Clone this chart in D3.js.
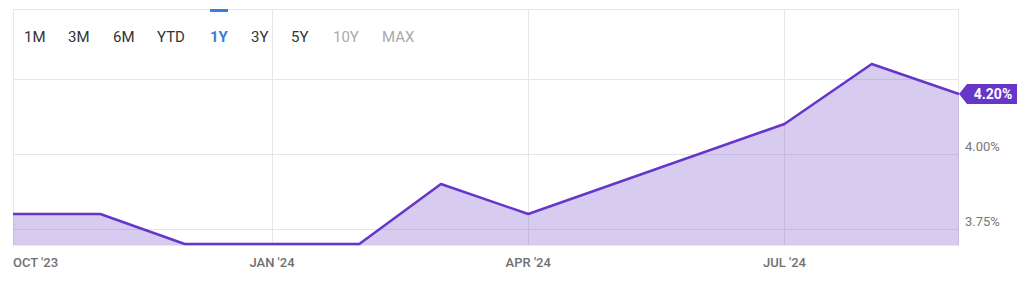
<!DOCTYPE html>
<html>
<head>
<meta charset="utf-8">
<script src="https://cdn.jsdelivr.net/npm/d3@7"></script>
<style>
  body { margin: 0; background: #fff; }
  svg { display: block; font-family: Roboto, "Liberation Sans", sans-serif; }
</style>
</head>
<body>
<svg id="chart" width="1024" height="282"></svg>
<script>
// data (vertices of the line only)
const dates = ["2023-10-01", "2023-11-01", "2023-12-01", "2024-02-01", "2024-03-01",
               "2024-04-01", "2024-07-01", "2024-08-01", "2024-09-01"];
const rates = [3.80, 3.80, 3.70, 3.70, 3.90, 3.80, 4.10, 4.30, 4.20];

const xTicks = ["2023-10-01", "2024-01-01", "2024-04-01", "2024-07-01"];
const xTickLabels = ["OCT '23", "JAN '24", "APR '24", "JUL '24"];
const yGrid = [3.75, 4.00, 4.25];
const yTickLabels = ["3.75%", "4.00%"];

const ranges = ["1M", "3M", "6M", "YTD", "1Y", "3Y", "5Y", "10Y", "MAX"];
const rangeState = ["on", "on", "on", "on", "active", "on", "on", "off", "off"];

const parse = d3.timeParse("%Y-%m-%d");
const data = dates.map((d, i) => ({ date: parse(d), value: rates[i] }));

const plotL = 13, plotR = 959, plotT = 9, plotB = 245;

const svg = d3.select("#chart");

//  scales
const x = d3.scaleTime()
  .domain([parse(dates[0]), parse(dates[dates.length - 1])])
  .range([plotL, plotR]);

const y = d3.scaleLinear()
  .domain([3.6967, 4.4833])
  .range([plotB, plotT]);

//  grid lines
svg.append("g")
  .selectAll("line")
  .data(yGrid)
  .join("line")
  .attr("x1", plotL).attr("x2", plotR)
  .attr("y1", d => Math.round(y(d)) + 0.5).attr("y2", d => Math.round(y(d)) + 0.5)
  .attr("stroke", "#e6e6e6");

svg.append("g")
  .selectAll("line")
  .data(xTicks.slice(1))
  .join("line")
  .attr("x1", d => Math.round(x(parse(d))) + 0.5).attr("x2", d => Math.round(x(parse(d))) + 0.5)
  .attr("y1", plotT).attr("y2", plotB)
  .attr("stroke", "#e6e6e6");

// frame
svg.append("rect")
  .attr("x", plotL + 0.5).attr("y", plotT + 0.5)
  .attr("width", plotR - plotL - 1).attr("height", plotB - plotT)
  .attr("fill", "none")
  .attr("stroke", "#e8e8e8");

//  area + line
const area = d3.area()
  .x(d => x(d.date))
  .y0(plotB)
  .y1(d => y(d.value));

const line = d3.line()
  .x(d => x(d.date))
  .y(d => y(d.value));

svg.append("path")
  .datum(data)
  .attr("d", area)
  .attr("fill", "#6a3fc8")
  .attr("fill-opacity", 0.27);

svg.append("path")
  .datum(data)
  .attr("d", line)
  .attr("fill", "none")
  .attr("stroke", "#6636c9")
  .attr("stroke-width", 2.5)
  .attr("stroke-linejoin", "round");

//  x axis labels
svg.append("g")
  .selectAll("text")
  .data(xTicks)
  .join("text")
  .attr("x", d => x(parse(d)))
  .attr("y", 267)
  .attr("text-anchor", (d, i) => i === 0 ? "start" : "middle")
  .attr("font-size", 13)
  .attr("font-weight", 500)
  .attr("fill", "#707070")
  .text((d, i) => xTickLabels[i]);

//  y axis labels
svg.append("g")
  .selectAll("text")
  .data(yTickLabels)
  .join("text")
  .attr("x", 965)
  .attr("y", (d, i) => y(yGrid[i]) - 3)
  .attr("font-size", 13)
  .attr("fill", "#777")
  .text(d => d);

//  last value callout
const last = data[data.length - 1];
const cx = x(last.date), cy = y(last.value);
svg.append("path")
  .attr("d", `M${cx},${cy} L${cx + 8},${cy - 10} L${cx + 58},${cy - 10} L${cx + 58},${cy + 10} L${cx + 8},${cy + 10} Z`)
  .attr("fill", "#6636c9");
svg.append("text")
  .attr("x", cx + 34).attr("y", cy + 5)
  .attr("text-anchor", "middle")
  .attr("font-size", 14)
  .attr("font-weight", 700)
  .attr("fill", "#fff")
  .text(last.value.toFixed(2) + "%");

//  range buttons
const btnX = [24, 68, 113, 157, 210, 251, 291, 333, 382];
svg.append("g")
  .selectAll("text")
  .data(ranges)
  .join("text")
  .attr("x", (d, i) => btnX[i])
  .attr("y", 42)
  .attr("font-size", 15)
  .attr("font-weight", (d, i) => rangeState[i] === "active" ? 700 : 400)
  .attr("fill", (d, i) => rangeState[i] === "active" ? "#3b7ddd" : rangeState[i] === "off" ? "#aaa" : "#333")
  .text(d => d);

const act = ranges.indexOf("1Y");
svg.append("rect")
  .attr("x", btnX[act]).attr("y", 9)
  .attr("width", 18).attr("height", 3)
  .attr("fill", "#3b7ddd");
</script>
</body>
</html>
